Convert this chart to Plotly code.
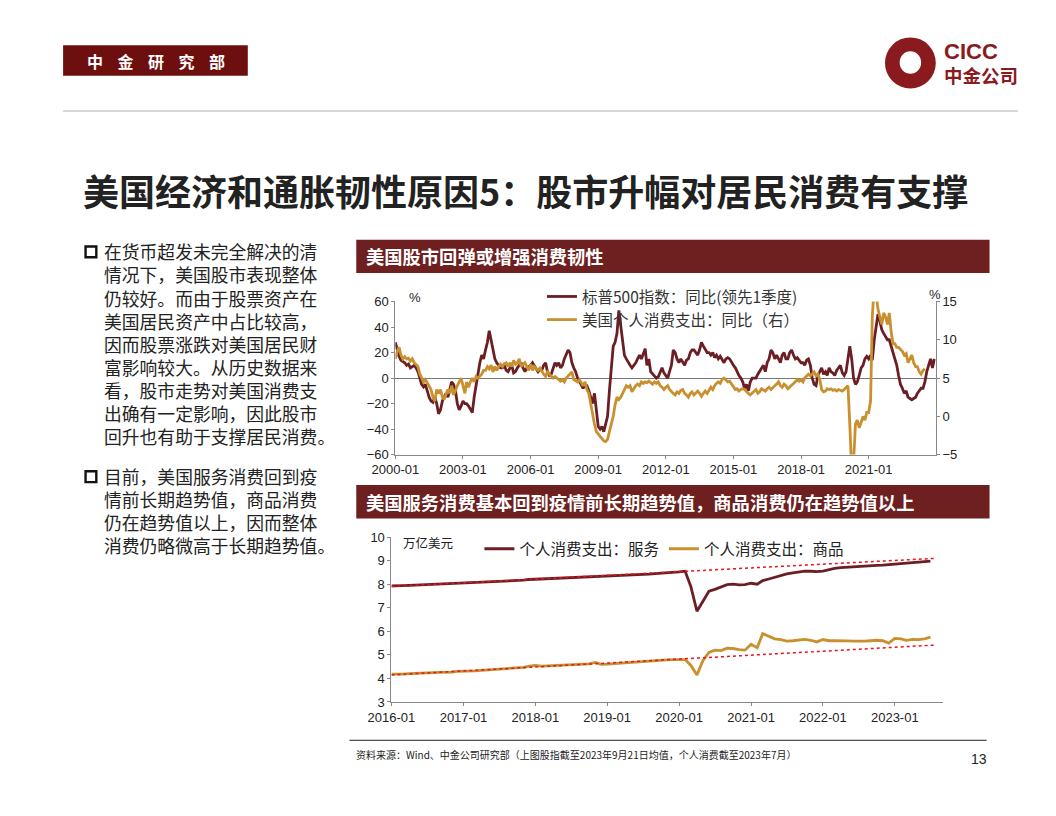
import plotly.graph_objects as go
import pandas as pd

# ---------------- data ----------------
spx_yoy = [
 28,22,17,14,13,12,10,11,8,9,10,8,
 5,0,-5,-7,-5,-10,-15,-18,-19,-15,-20,-28,
 -25,-18,-15,-12,-15,-8,-3,-5,-10,-20,-25,-22,
 -18,-20,-20,-22,-25,-27,-15,-5,5,12,18,15,
 22,28,37,30,22,15,12,10,8,8,10,6,
 5,8,10,4,5,8,10,12,8,5,8,9,
 10,12,10,8,5,7,6,10,12,5,2,3,
 8,12,10,12,8,10,15,18,22,20,12,8,
 5,0,-3,-5,-8,-5,-6,-10,-15,-20,-12,-25,
 -38,-40,-38,-42,-35,-30,-10,10,25,28,35,53,
 40,25,18,15,12,10,8,10,12,15,18,15,
 20,23,10,15,5,3,2,0,1,5,8,4,
 2,0,5,10,22,20,15,12,15,12,10,14,
 15,20,22,22,20,18,22,28,25,22,20,20,
 18,20,16,18,15,17,14,12,15,16,15,12,
 10,8,5,2,0,-3,-8,-5,-10,-3,0,0,
 0,3,5,8,10,5,12,15,22,20,15,18,
 15,12,18,20,15,15,20,22,18,15,16,14,
 12,12,10,14,15,10,0,-5,-6,2,5,8,
 3,5,2,8,5,4,2,6,8,10,4,2,
 5,15,25,15,0,-5,-3,2,8,10,15,17,
 15,18,14,30,40,50,45,38,35,32,30,30,
 25,18,15,10,2,-5,-8,-12,-10,-15,-16,-17,
 -16,-15,-12,-10,-8,-8,-3,5,10,15,8,15]
pce_yoy = [
 7.5,8.5,9.0,8.0,7.5,7.8,7.5,7.6,7.2,7.5,7.0,6.8,
 6.5,5.5,5.0,4.5,4.8,4.3,4.0,3.5,2.5,2.0,3.5,3.0,
 3.5,2.5,2.2,3.0,3.5,3.0,4.0,2.8,3.5,4.0,4.5,5.0,
 4.0,3.0,4.5,3.8,4.5,5.0,4.5,5.2,5.0,5.2,5.5,6.0,
 6.0,6.5,6.2,6.7,5.8,6.5,6.0,6.5,6.8,6.5,6.9,7.0,
 6.5,7.0,6.5,7.3,6.8,7.0,7.5,6.5,6.8,7.0,6.5,6.0,
 6.8,6.0,6.5,6.2,6.0,6.3,5.8,5.5,5.2,5.8,5.5,5.3,
 5.0,5.2,5.0,4.8,4.6,4.8,4.5,5.0,5.3,5.5,5.8,4.8,
 4.7,4.5,4.8,4.3,4.0,4.5,3.5,3.0,1.5,0.0,-1.0,-2.0,
 -2.3,-2.5,-2.8,-3.2,-3.3,-3.0,-2.0,-1.0,0.0,1.5,2.5,2.2,
 2.5,3.0,3.5,4.0,3.8,4.0,3.2,3.6,4.0,4.2,4.0,4.5,
 4.3,4.5,4.4,4.6,4.4,4.2,4.5,4.3,4.5,4.0,3.8,3.5,
 3.8,4.0,3.5,3.2,3.0,2.8,3.2,3.0,3.4,3.5,3.0,2.8,
 2.5,3.0,3.2,2.8,3.0,3.3,3.0,2.6,3.0,3.3,3.0,3.5,
 3.8,3.5,4.0,4.3,4.5,4.3,4.8,5.0,4.8,4.5,4.6,4.2,
 3.8,3.5,3.6,3.3,3.5,3.6,3.5,3.2,3.0,2.8,3.0,3.2,
 3.5,3.0,3.2,3.6,3.4,3.3,3.6,3.8,3.5,3.8,4.0,4.2,
 4.5,4.0,3.8,4.2,4.0,3.6,3.8,4.0,4.3,4.5,4.8,4.6,
 4.8,4.5,5.0,5.3,5.5,5.3,5.6,5.8,5.3,5.5,4.8,3.5,
 3.2,3.3,3.6,3.5,3.6,3.4,3.5,3.3,3.5,3.4,3.3,3.5,
 3.8,4.0,-1.0,-7.0,-6.0,-1.0,-0.5,-1.5,-0.8,0.0,-0.5,0.5,
 0.5,2.0,13.0,17.0,16.0,14.0,13.0,12.0,13.5,13.0,12.0,13.5,
 11.0,9.5,9.5,9.0,9.0,8.8,8.5,8.0,8.2,7.0,7.5,8.0,
 7.0,6.5,6.5,5.8,5.5,6.0,6.2]
services = [
 7.93,7.92,7.94,7.95,7.96,7.97,7.98,7.99,8.00,8.01,8.02,8.03,
 8.05,8.06,8.07,8.07,8.08,8.09,8.10,8.11,8.12,8.14,8.17,8.20,
 8.21,8.22,8.24,8.25,8.27,8.28,8.29,8.31,8.32,8.33,8.34,8.35,
 8.34,8.35,8.37,8.38,8.39,8.40,8.42,8.43,8.45,8.46,8.48,8.50,
 8.52,8.55,7.90,6.85,7.30,7.70,7.78,7.88,7.98,8.00,7.97,7.98,
 8.04,8.00,8.15,8.22,8.30,8.38,8.44,8.48,8.52,8.55,8.55,8.53,
 8.55,8.62,8.67,8.70,8.72,8.74,8.76,8.79,8.80,8.80,8.81,8.83,
 8.86,8.88,8.90,8.91,8.93,8.95,8.98]
goods = [
 4.18,4.17,4.18,4.20,4.22,4.23,4.24,4.25,4.26,4.25,4.27,4.30,
 4.30,4.31,4.32,4.34,4.36,4.37,4.38,4.40,4.42,4.45,4.47,4.52,
 4.55,4.52,4.53,4.54,4.56,4.57,4.58,4.59,4.60,4.62,4.68,4.60,
 4.61,4.63,4.66,4.68,4.70,4.72,4.74,4.76,4.76,4.77,4.79,4.80,
 4.81,4.80,4.55,4.15,4.75,5.10,5.20,5.18,5.28,5.27,5.22,5.20,
 5.45,5.30,5.90,5.80,5.68,5.65,5.58,5.60,5.63,5.66,5.62,5.55,
 5.65,5.60,5.60,5.58,5.59,5.58,5.57,5.58,5.60,5.62,5.60,5.50,
 5.70,5.68,5.62,5.66,5.65,5.68,5.75]
trend_dates = ["2016-01-01", "2023-08-01"]
services_trend = [7.9, 9.1]
goods_trend = [4.15, 5.42]

top_dates = pd.date_range("2000-01-01", periods=len(spx_yoy), freq="MS")
pce_dates = pd.date_range("2000-01-01", periods=len(pce_yoy), freq="MS")
bot_dates = pd.date_range("2016-01-01", periods=len(services), freq="MS")

DARK = "#6B1F24"
GOLD = "#C8902F"
BAR = "#6E1F1F"
FONT = "Noto Sans CJK SC"
W, H = 1056, 816

def px(x): return x / W
def py(y): return 1 - y / H

fig = go.Figure()
fig.add_trace(go.Scatter(x=top_dates, y=spx_yoy, name="标普500指数：同比(领先1季度)",
                         line=dict(color=DARK, width=2.8), xaxis="x", yaxis="y"))
fig.add_trace(go.Scatter(x=pce_dates, y=pce_yoy, name="美国个人消费支出：同比（右）",
                         line=dict(color=GOLD, width=2.8), xaxis="x", yaxis="y3"))
fig.add_trace(go.Scatter(x=bot_dates, y=services, name="个人消费支出：服务",
                         line=dict(color=DARK, width=2.8), xaxis="x2", yaxis="y2", legend="legend2"))
fig.add_trace(go.Scatter(x=bot_dates, y=goods, name="个人消费支出：商品",
                         line=dict(color=GOLD, width=2.8), xaxis="x2", yaxis="y2", legend="legend2"))
fig.add_trace(go.Scatter(x=trend_dates, y=services_trend, showlegend=False, mode="lines",
                         line=dict(color="#E8141E", width=1.5, dash="dot"), xaxis="x2", yaxis="y2"))
fig.add_trace(go.Scatter(x=trend_dates, y=goods_trend, showlegend=False, mode="lines",
                         line=dict(color="#E8141E", width=1.5, dash="dot"), xaxis="x2", yaxis="y2"))

axfont = dict(family="Arial", size=13, color="#222")
fig.update_layout(
    width=W, height=H, margin=dict(l=0, r=0, t=0, b=0),
    paper_bgcolor="white", plot_bgcolor="white",
    font=dict(family=FONT, color="#222"),
    xaxis=dict(domain=[px(380), px(933)], anchor="y", type="date",
               range=["2000-01-01", "2023-12-25"], dtick="M36", tick0="2000-01-01",
               tickformat="%Y-%m", showgrid=False, showline=True, linecolor="#888",
               ticks="outside", ticklen=3, tickcolor="#888", tickfont=axfont),
    yaxis=dict(domain=[py(456), py(300)], anchor="x", range=[-60, 60], dtick=20,
               showgrid=False, showline=True, linecolor="#888", zeroline=True,
               zerolinecolor="#777", zerolinewidth=1, tickfont=axfont, ticks="outside",
               ticklen=3, tickcolor="#888"),
    yaxis3=dict(overlaying="y", side="right", anchor="x", range=[-5, 15], dtick=5,
                showgrid=False, showline=True, linecolor="#888", zeroline=False,
                tickfont=axfont, ticks="outside", ticklen=3, tickcolor="#888"),
    xaxis2=dict(domain=[px(376), px(940)], anchor="y2", type="date",
                range=["2016-01-01", "2023-09-01"], dtick="M12", tick0="2016-01-01",
                tickformat="%Y-%m", showgrid=False, showline=True, linecolor="#888",
                ticks="outside", ticklen=3, tickcolor="#888", tickfont=axfont),
    yaxis2=dict(domain=[py(708), py(540)], anchor="x2", range=[3, 10], dtick=1,
                showgrid=False, showline=True, linecolor="#888", zeroline=False,
                tickfont=axfont, ticks="outside", ticklen=3, tickcolor="#888"),
    legend=dict(x=px(530), y=py(278), xanchor="left", yanchor="top", bgcolor="rgba(0,0,0,0)",
                font=dict(family=FONT, size=15.5, color="#333"), tracegroupgap=0, itemwidth=30),
    legend2=dict(x=px(466), y=py(535), xanchor="left", yanchor="top", orientation="h",
                 bgcolor="rgba(0,0,0,0)", font=dict(family=FONT, size=15.5, color="#222"),
                 itemwidth=30),
)

shapes = [
    dict(type="rect", xref="paper", yref="paper", x0=px(40), x1=px(229), y0=py(70), y1=py(39),
         fillcolor="#6E0F0F", line_width=0),
    dict(type="line", xref="paper", yref="paper", x0=px(40), x1=px(1017), y0=py(106), y1=py(106),
         line=dict(color="#D5D5D5", width=2)),
    dict(type="rect", xref="paper", yref="paper", x0=px(340), x1=px(988), y0=py(271), y1=py(237),
         fillcolor=BAR, line_width=0),
    dict(type="rect", xref="paper", yref="paper", x0=px(340), x1=px(988), y0=py(521), y1=py(487),
         fillcolor=BAR, line_width=0),
    dict(type="line", xref="paper", yref="paper", x0=px(333), x1=px(985), y0=py(747), y1=py(747),
         line=dict(color="#222", width=1)),
    dict(type="rect", xref="paper", yref="paper", x0=px(63), x1=px(74), y0=py(255), y1=py(244),
         line=dict(color="#111", width=2.4), fillcolor="white"),
    dict(type="rect", xref="paper", yref="paper", x0=px(63), x1=px(74), y0=py(484), y1=py(473),
         line=dict(color="#111", width=2.4), fillcolor="white"),
    dict(type="circle", xref="paper", yref="paper", x0=px(881), x1=px(933), y0=py(83), y1=py(31),
         fillcolor="#8A1A1D", line_width=0),
    dict(type="path", xref="paper", yref="paper",
         path=f"M {px(907)},{py(31)} A 1 1 0 0 1 {px(907)},{py(83)} Z",
         fillcolor="#C9974A", line_width=0),
    dict(type="circle", xref="paper", yref="paper", x0=px(896), x1=px(918), y0=py(68), y1=py(45),
         fillcolor="white", line_width=0),
]
fig.update_layout(shapes=shapes)

ann = []
def T(x, y, text, size, color="#222", bold=False, xanchor="left", yanchor="middle", family=FONT):
    if bold:
        text = f"<b>{text}</b>"
    ann.append(dict(xref="paper", yref="paper", x=px(x), y=py(y), text=text, showarrow=False,
                    xanchor=xanchor, yanchor=yanchor, font=dict(family=family, size=size, color=color)))

T(135, 55, "中 &nbsp; &nbsp;金 &nbsp; &nbsp;研 &nbsp; &nbsp;究 &nbsp; &nbsp;部", 16, "white", True, "center")
T(939, 45, "CICC", 22, "#8A1A1D", True, family="Liberation Sans")
T(939, 69, "中金公司", 18.5, "#8A1A1D", True)
T(58, 186, "美国经济和通胀韧性原因5：股市升幅对居民消费有支撑", 36, "#222", True)
T(348, 254, "美国股市回弹或增强消费韧性", 18.3, "white", True)
T(348, 504, "美国服务消费基本回到疫情前长期趋势值，商品消费仍在趋势值以上", 18.3, "white", True)

para1 = ["在货币超发未完全解决的清", "情况下，美国股市表现整体", "仍较好。而由于股票资产在",
         "美国居民资产中占比较高，", "因而股票涨跌对美国居民财", "富影响较大。从历史数据来",
         "看，股市走势对美国消费支", "出确有一定影响，因此股市", "回升也有助于支撑居民消费。"]
para2 = ["目前，美国服务消费回到疫", "情前长期趋势值，商品消费", "仍在趋势值以上，因而整体",
         "消费仍略微高于长期趋势值。"]
for i, line in enumerate(para1):
    T(80, 249 + i * 23.5, line, 17.8)
for i, line in enumerate(para2):
    T(80, 478 + i * 23.5, line, 17.8)

T(392, 296, "%", 13, family="Arial")
T(940, 293, "%", 13, family="Arial", xanchor="right")
T(386, 546, "万亿美元", 12.5, family=FONT)
T(338, 762, "资料来源：Wind、中金公司研究部（上图股指截至2023年9月21日均值，个人消费截至2023年7月）", 10)
T(987, 766, "13", 14, family="Arial", xanchor="right")
fig.update_layout(annotations=ann)

fig.write_html("out.html", config=dict(displayModeBar=False))
with open("out.html", encoding="utf-8") as f:
    html = f.read()
html = html.replace("<head>", "<head><style>html,body{margin:0;padding:0;overflow:hidden;}</style>", 1)
with open("out.html", "w", encoding="utf-8") as f:
    f.write(html)
